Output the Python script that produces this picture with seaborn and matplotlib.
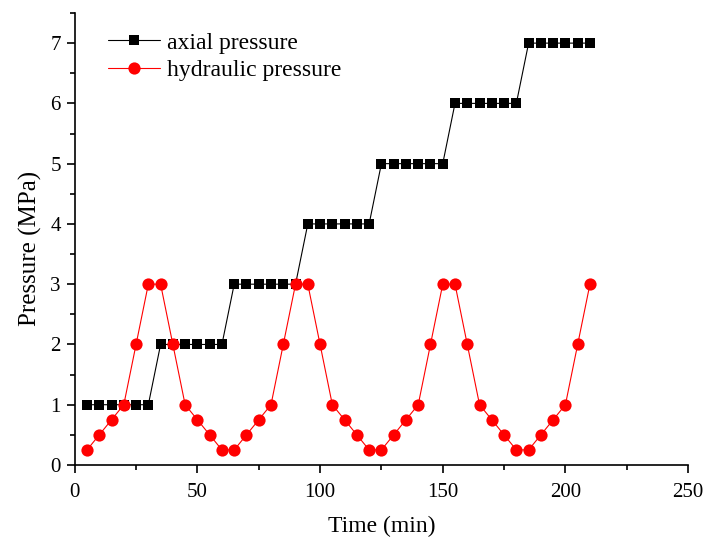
import matplotlib.pyplot as plt
import seaborn as sns
import pandas as pd
from matplotlib.ticker import MultipleLocator

time_min = [5, 10, 15, 20, 25, 30, 35, 40, 45, 50, 55, 60, 65, 70, 75, 80, 85, 90, 95, 100,
            105, 110, 115, 120, 125, 130, 135, 140, 145, 150, 155, 160, 165, 170, 175, 180,
            185, 190, 195, 200, 205, 210]
axial = [1, 1, 1, 1, 1, 1, 2, 2, 2, 2, 2, 2, 3, 3, 3, 3, 3, 3, 4, 4, 4, 4, 4, 4,
         5, 5, 5, 5, 5, 5, 6, 6, 6, 6, 6, 6, 7, 7, 7, 7, 7, 7]
hydraulic = [0.25, 0.5, 0.75, 1, 2, 3, 3, 2, 1, 0.75, 0.5, 0.25,
             0.25, 0.5, 0.75, 1, 2, 3, 3, 2, 1, 0.75, 0.5, 0.25,
             0.25, 0.5, 0.75, 1, 2, 3, 3, 2, 1, 0.75, 0.5, 0.25,
             0.25, 0.5, 0.75, 1, 2, 3]

df = pd.DataFrame({'Time': time_min, 'axial': axial, 'hydraulic': hydraulic})

sns.set_style('ticks')
plt.rcParams['font.family'] = ['Liberation Serif', 'DejaVu Serif']
plt.rcParams['text.color'] = 'black'
plt.rcParams['axes.labelcolor'] = 'black'
plt.rcParams['xtick.color'] = 'black'
plt.rcParams['ytick.color'] = 'black'
plt.rcParams['axes.edgecolor'] = 'black'

fig = plt.figure(figsize=(7.05, 5.41), dpi=100)
ax = fig.add_axes([0.106, 0.1405, 0.870, 0.8355])

sns.lineplot(data=df, x='Time', y='axial', ax=ax, color='black', marker='s',
             markersize=7.6, markeredgewidth=0, linewidth=0.8, label='axial pressure')
sns.lineplot(data=df, x='Time', y='hydraulic', ax=ax, color='red', marker='o',
             markersize=8.8, markeredgewidth=0, linewidth=0.8, label='hydraulic pressure')

ax.set_xlim(0, 250)
ax.set_ylim(0, 7.5)
ax.xaxis.set_major_locator(MultipleLocator(50))
ax.xaxis.set_minor_locator(MultipleLocator(25))
ax.yaxis.set_major_locator(MultipleLocator(1))
ax.yaxis.set_minor_locator(MultipleLocator(0.5))
ax.tick_params(which='major', direction='out', length=6, width=1.2, labelsize=15)
ax.tick_params(axis='x', which='major', pad=7)
ax.tick_params(axis='y', which='major', pad=4)
ax.tick_params(which='minor', direction='out', length=3.5, width=1.2)
for s in ['left', 'bottom']:
    ax.spines[s].set_linewidth(1.2)
sns.despine(ax=ax)

ax.set_xlabel('Time (min)', fontsize=17, labelpad=10)
ax.set_ylabel('Pressure (MPa)', fontsize=18)
ax.yaxis.set_label_coords(-0.053, 0.48)

ax.legend(loc='upper left', bbox_to_anchor=(0.02, 1.005), frameon=False, fontsize=17,
          handlelength=2.2, handletextpad=0.3, labelspacing=0.25)

fig.savefig('out.png', dpi=100)
